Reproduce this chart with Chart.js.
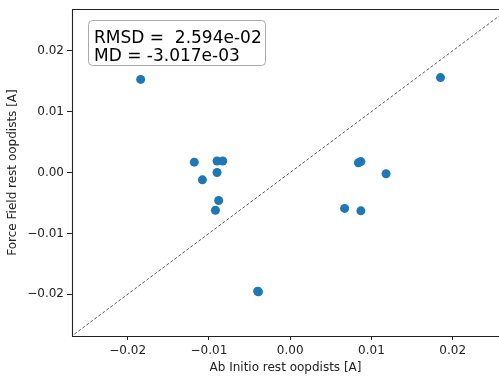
<!DOCTYPE html>
<html>
<head>
    <title>Force Field vs Ab Initio rest oopdists</title>
    <script src="https://cdn.jsdelivr.net/npm/chart.js"></script>
    <style>
        html, body { margin: 0; padding: 0; background: #fff; }
        #wrap { width: 499px; height: 378px; }
    </style>
</head>
<body>
    <div id="wrap"><canvas id="myChart" width="499" height="378"></canvas></div>
    <script>
        // Data
        const abInitio   = [-0.0184, 0.0185, -0.0118, -0.0090, -0.0083, -0.0090, -0.0108, -0.0088, -0.0092, 0.0084, 0.0087, 0.0118, 0.0067, 0.0087, -0.0040, -0.0039];
        const forceField = [0.0153, 0.0156, 0.0017, 0.0019, 0.0019, 0.0000, -0.0012, -0.0046, -0.0062, 0.0016, 0.0018, -0.0002, -0.0059, -0.0063, -0.0195, -0.0196];
        const diagX = [-0.03, 0.03];
        const xTicks = [-0.02, -0.01, 0.00, 0.01, 0.02];
        const yTicks = [-0.02, -0.01, 0.00, 0.01, 0.02];
        const statLines = ['RMSD =  2.594e-02', 'MD = -3.017e-03'];

        const xRange = [-0.02685, 0.0257];
        const yRange = [-0.02686, 0.02687];

        const fmt = v => (v < 0 ? '\u2212' : '') + Math.abs(v).toFixed(2);
        const font = { family: 'DejaVu Sans', size: 12 };

        // frame (no right edge visible) + stats box
        const framePlugin = {
            id: 'frame',
            afterDraw(chart) {
                const { ctx, chartArea: a } = chart;
                ctx.save();
                ctx.strokeStyle = '#222';
                ctx.lineWidth = 1.1;
                ctx.beginPath();
                ctx.moveTo(a.right + 2, a.top + 0.5);
                ctx.lineTo(a.left + 0.5, a.top + 0.5);
                ctx.lineTo(a.left + 0.5, a.bottom + 0.5);
                ctx.lineTo(a.right + 2, a.bottom + 0.5);
                ctx.stroke();
                // stats box
                const bx = 88.5, by = 20.5, bw = 177, bh = 45, r = 4;
                ctx.fillStyle = 'rgba(255,255,255,0.85)';
                ctx.strokeStyle = '#aaa';
                ctx.lineWidth = 1;
                ctx.beginPath();
                ctx.roundRect(bx, by, bw, bh, r);
                ctx.fill();
                ctx.stroke();
                ctx.fillStyle = '#000';
                ctx.font = '17px "DejaVu Sans"';
                ctx.textBaseline = 'alphabetic';
                ctx.fillText(statLines[0], 94, 42.5);
                ctx.fillText(statLines[1], 94, 60.5);
                ctx.restore();
            }
        };

        const ctx = document.getElementById('myChart').getContext('2d');
        new Chart(ctx, {
            type: 'scatter',
            data: {
                datasets: [{
                    type: 'line',
                    data: diagX.map(v => ({ x: v, y: v })),
                    borderColor: '#333',
                    borderWidth: 0.8,
                    borderDash: [3, 2],
                    pointRadius: 0,
                    fill: false
                }, {
                    data: abInitio.map((x, i) => ({ x, y: forceField[i] })),
                    backgroundColor: '#1f77b4',
                    borderColor: '#1f77b4',
                    pointRadius: 4.5,
                    borderWidth: 0
                }]
            },
            options: {
                responsive: false,
                animation: false,
                layout: { autoPadding: false, padding: { top: 9, right: 0, left: 0, bottom: 0 } },
                plugins: { legend: { display: false }, tooltip: { enabled: false } },
                scales: {
                    x: {
                        type: 'linear',
                        min: xRange[0], max: xRange[1],
                        afterBuildTicks: s => { s.ticks = xTicks.map(v => ({ value: v })); },
                        afterFit: s => { s.height = 42; s.paddingRight = 0; s.paddingLeft = 0; },
                        grid: { display: true, drawOnChartArea: false, drawTicks: true, tickLength: 4, color: '#222' },
                        border: { display: false },
                        ticks: { callback: fmt, color: '#222', font, padding: 4, maxRotation: 0 },
                        title: { display: true, text: 'Ab Initio rest oopdists [A]', color: '#222', font, padding: { top: 0, bottom: 3 } }
                    },
                    y: {
                        type: 'linear',
                        min: yRange[0], max: yRange[1],
                        afterBuildTicks: s => { s.ticks = yTicks.map(v => ({ value: v })); },
                        afterFit: s => { s.width = 72; s.paddingTop = 0; s.paddingBottom = 0; },
                        grid: { display: true, drawOnChartArea: false, drawTicks: true, tickLength: 5, color: '#222' },
                        border: { display: false },
                        ticks: { callback: fmt, color: '#222', font, padding: 3 },
                        title: { display: true, text: 'Force Field rest oopdists [A]', color: '#222', font, padding: { top: 6, bottom: 0 } }
                    }
                }
            },
            plugins: [framePlugin]
        });
    </script>
</body>
</html>
